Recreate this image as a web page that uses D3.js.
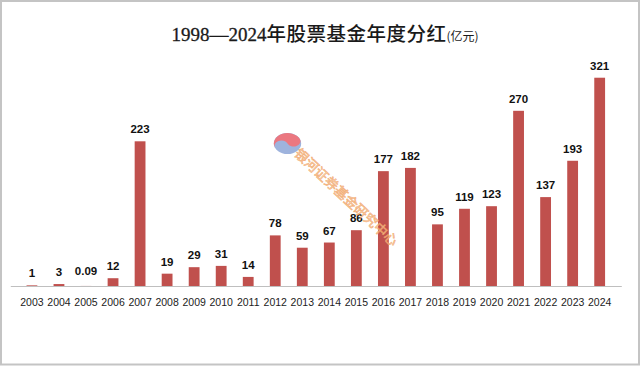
<!DOCTYPE html>
<html>
<head>
<meta charset="utf-8">
<script src="https://cdn.jsdelivr.net/npm/d3@7"></script>
<style>
  html, body { margin: 0; padding: 0; background: #fff; }
  svg { display: block; }
</style>
</head>
<body>
<svg id="chart" width="640" height="366"></svg>
<script>
const years = ["2003","2004","2005","2006","2007","2008","2009","2010","2011","2012","2013","2014","2015","2016","2017","2018","2019","2020","2021","2022","2023","2024"];
const dividends = [1, 3, 0.09, 12, 223, 19, 29, 31, 14, 78, 59, 67, 86, 177, 182, 95, 119, 123, 270, 137, 193, 321];
const valueLabels = ["1","3","0.09","12","223","19","29","31","14","78","59","67","86","177","182","95","119","123","270","137","193","321"];
const titleYears = "1998—2024";
const titleMain = "年股票基金年度分红";
const titleUnit = "(亿元)";
const watermarkText = "银河证券基金研究中心";

const svg = d3.select("#chart");
const W = 640, H = 366;

// frame
svg.append("rect")
  .attr("x", 1).attr("y", 1).attr("width", W - 2).attr("height", H - 2.5)
  .attr("fill", "#fff").attr("stroke", "#c4c4c4").attr("stroke-width", 2);

const x = d3.scaleBand().domain(years).range([10.3, 621.3]).padding(0.6);
const y = d3.scaleLinear().domain([0, 350]).range([286, 58.9]);

// title
const title = svg.append("text")
  .attr("x", 325).attr("y", 41)
  .attr("text-anchor", "middle")
  .attr("fill", "#1a1a1a");
title.append("tspan")
  .attr("font-family", "'Liberation Serif', serif")
  .attr("font-size", 19)
  .attr("stroke", "#1a1a1a").attr("stroke-width", 0.3)
  .text(titleYears);
title.append("tspan")
  .attr("font-family", "'Noto Sans CJK SC', sans-serif")
  .attr("font-size", 19.5)
  .attr("font-weight", 500)
  .attr("letter-spacing", 0.5)
  .text(titleMain);
title.append("tspan")
  .attr("font-family", "'Noto Sans CJK SC', serif")
  .attr("font-size", 12)
  .text(titleUnit);

// bars
svg.append("g").selectAll("rect")
  .data(dividends)
  .join("rect")
  .attr("x", (d, i) => x(years[i]))
  .attr("width", x.bandwidth())
  .attr("y", d => y(d))
  .attr("height", d => y(0) - y(d))
  .attr("fill", "#c0504d");

// axis
const axis = svg.append("g")
  .attr("transform", `translate(0,${y(0)})`)
  .call(d3.axisBottom(x).tickSize(0).tickPadding(13).tickSizeOuter(0));
axis.select(".domain").attr("stroke", "#bfbfbf").attr("stroke-width", 1);
axis.selectAll("text")
  .attr("font-family", "'Liberation Sans', Arial, sans-serif")
  .attr("font-size", 10.5)
  .attr("fill", "#222");

// value labels
svg.append("g").selectAll("text")
  .data(dividends)
  .join("text")
  .attr("x", (d, i) => x(years[i]) + x.bandwidth() / 2)
  .attr("y", (d, i) => y(d) - 8 - (valueLabels[i] === "0.09" ? 3 : 0))
  .attr("text-anchor", "middle")
  .attr("font-family", "'Liberation Sans', Arial, sans-serif")
  .attr("font-weight", "bold")
  .attr("font-size", 11.5)
  .attr("fill", "#111")
  .text((d, i) => valueLabels[i]);

// watermark logo
const logo = svg.append("g").attr("transform", "translate(287.5,143.5) scale(1.3,1)").attr("opacity", 0.85);
const r = 10.5;
logo.append("circle").attr("r", r).attr("fill", "#8ea6d8");
logo.append("path")
  .attr("d", `M ${-r} 0 A ${r} ${r} 0 0 1 ${r} 0 A ${r/2} ${r/2} 0 0 1 0 0 A ${r/2} ${r/2} 0 0 0 ${-r} 0 Z`)
  .attr("transform", "rotate(-25)")
  .attr("fill", "#e8606a");

// watermark text
svg.append("text")
  .attr("transform", "translate(347,196.5) rotate(43)")
  .attr("text-anchor", "middle")
  .attr("dominant-baseline", "central")
  .attr("font-family", "'Noto Sans CJK SC', sans-serif")
  .attr("font-size", 13.5)
  .attr("fill", "#fbd3ae")
  .attr("stroke", "#f0a060")
  .attr("stroke-width", 0.6)
  .attr("opacity", 0.85)
  .text(watermarkText);
</script>
</body>
</html>
